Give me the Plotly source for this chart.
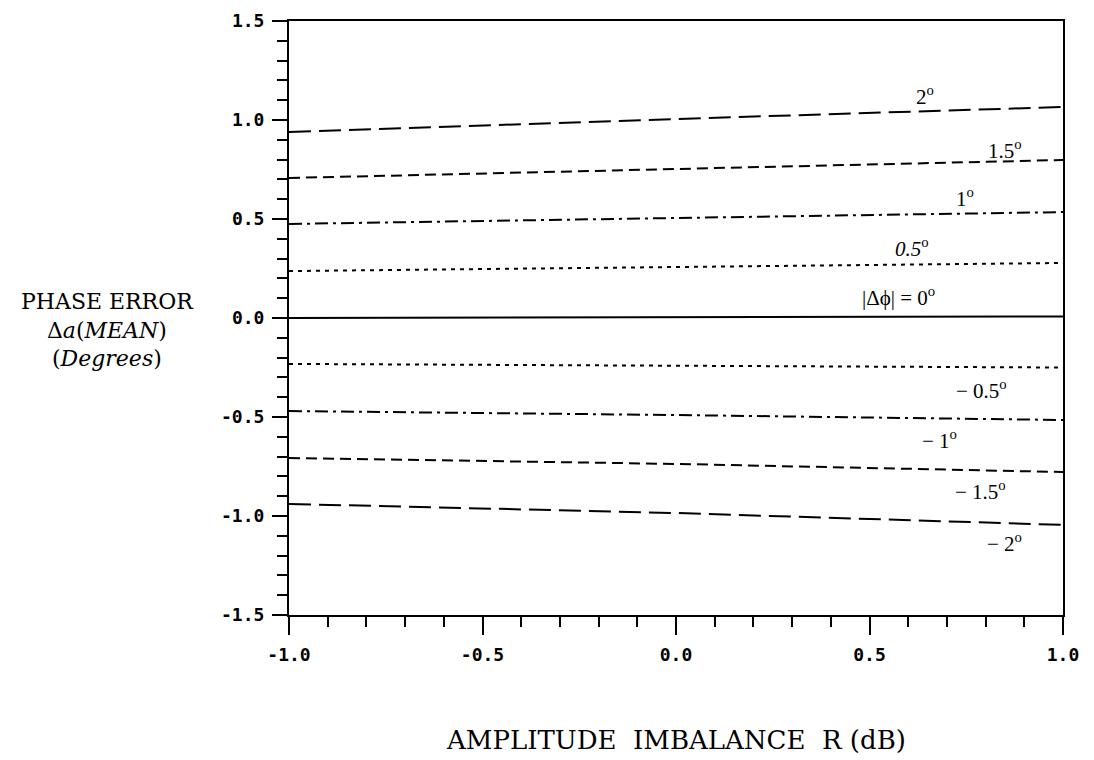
import plotly.graph_objects as go

# Amplitude imbalance R (dB) sample positions
x_vals = [-1.0, 0.0, 1.0]

# Mean phase error curves for each |Δφ| value (degrees)
series_names = ["2°", "1.5°", "1°", "0.5°", "0°", "-0.5°", "-1°", "-1.5°", "-2°"]
y_2 = [0.939, 1.005, 1.066]
y_15 = [0.707, 0.752, 0.798]
y_1 = [0.475, 0.505, 0.535]
y_05 = [0.237, 0.258, 0.278]
y_0 = [0.0, 0.005, 0.008]
y_m05 = [-0.232, -0.242, -0.250]
y_m1 = [-0.470, -0.490, -0.515]
y_m15 = [-0.707, -0.737, -0.778]
y_m2 = [-0.939, -0.985, -1.045]
series_values = [y_2, y_15, y_1, y_05, y_0, y_m05, y_m1, y_m15, y_m2]
series_dash = ["22px,8px", "11px,6px", "13px,5px,3px,5px", "4px,5px", "solid",
               "4px,5px", "13px,5px,3px,5px", "11px,6px", "22px,8px"]

# Curve labels and their positions
label_texts = ["2<sup>o</sup>", "1.5<sup>o</sup>", "1<sup>o</sup>", "<i>0.5</i><sup>o</sup>",
               "|Δϕ| = 0<sup>o</sup>", "− 0.5<sup>o</sup>", "− 1<sup>o</sup>",
               "− 1.5<sup>o</sup>", "− 2<sup>o</sup>"]
label_x = [0.643, 0.85, 0.747, 0.61, 0.574, 0.79, 0.682, 0.786, 0.85]
label_y = [1.126, 0.85, 0.61, 0.354, 0.11, -0.36, -0.616, -0.87, -1.136]

x_ticks = [-1.0, -0.5, 0.0, 0.5, 1.0]
x_tick_labels = ["-1.0", "-0.5", "0.0", "0.5", "1.0"]
y_ticks = [-1.5, -1.0, -0.5, 0.0, 0.5, 1.0, 1.5]
y_tick_labels = ["-1.5", "-1.0", "-0.5", "0.0", "0.5", "1.0", "1.5"]

fig = go.Figure()
for name, vals, dash in zip(series_names, series_values, series_dash):
    fig.add_trace(go.Scatter(x=x_vals, y=vals, mode="lines", name=name,
                             line=dict(color="black", width=2, dash=dash),
                             showlegend=False))

for t, lx, ly in zip(label_texts, label_x, label_y):
    fig.add_annotation(x=lx, y=ly, text=t, showarrow=False, xref="x", yref="y",
                       font=dict(family="Liberation Serif", size=21, color="black"))

fig.add_annotation(xref="paper", yref="paper", x=-0.235, y=0.48,
                   xanchor="center", yanchor="middle",
                   text="PHASE ERROR<br>Δ<i>a</i>(<i>MEAN</i>)<br>(<i>Degrees</i>)",
                   showarrow=False, align="center",
                   font=dict(family="DejaVu Serif", size=22, color="black"))
fig.add_annotation(xref="paper", yref="paper", x=0.5, y=-0.21,
                   xanchor="center", yanchor="middle",
                   text="AMPLITUDE  IMBALANCE  R (dB)", showarrow=False,
                   font=dict(family="DejaVu Serif", size=26, color="black"))

tick_font = dict(family="DejaVu Sans Mono", size=18, color="black", weight="bold")

fig.update_xaxes(range=[-1.0, 1.0], tickvals=x_ticks, ticktext=x_tick_labels,
                 ticks="outside", ticklen=18, tickwidth=2, tickcolor="black",
                 showline=True, linecolor="black", linewidth=2, mirror=True,
                 showgrid=False, zeroline=False, tickfont=tick_font,
                 ticklabelstandoff=4, automargin=False,
                 minor=dict(dtick=0.1, ticks="outside", ticklen=10, tickwidth=2,
                            tickcolor="black", showgrid=False))
fig.update_yaxes(range=[-1.5, 1.5], tickvals=y_ticks, ticktext=y_tick_labels,
                 ticks="outside", ticklen=15, tickwidth=2, tickcolor="black",
                 showline=True, linecolor="black", linewidth=2, mirror=True,
                 showgrid=False, zeroline=False, tickfont=tick_font,
                 ticklabelstandoff=4, automargin=False,
                 minor=dict(dtick=0.1, ticks="outside", ticklen=10, tickwidth=2,
                            tickcolor="black", showgrid=False))

fig.update_layout(width=1094, height=760, plot_bgcolor="white", paper_bgcolor="white",
                  margin=dict(l=281, r=39, t=13, b=153))

fig.write_html("out.html")
